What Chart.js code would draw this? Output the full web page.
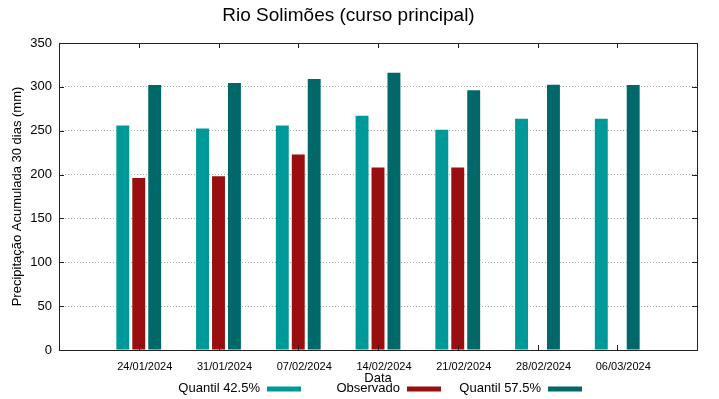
<!DOCTYPE html>
<html lang="pt">
<head>
<meta charset="UTF-8">
<title>Rio Solimões (curso principal)</title>
<script src="https://cdn.jsdelivr.net/npm/chart.js"></script>
<style>
  html, body { margin: 0; padding: 0; background: #fff; }
  #wrap { width: 719px; height: 399px; }
</style>
</head>
<body>
<div id="wrap"><canvas id="chart" width="719" height="399"></canvas></div>
<script>
const dates = ['24/01/2024', '31/01/2024', '07/02/2024', '14/02/2024', '21/02/2024', '28/02/2024', '06/03/2024']
const quantil425 = [256, 252.5, 256, 267, 251, 263.5, 263.5]
const observado = [196, 198, 223, 208, 208, null, null]
const quantil575 = [302, 304.5, 309, 316, 296, 302.5, 302]
const yTicks = [0, 50, 100, 150, 200, 250, 300, 350]

// empty slot on each side, like gnuplot leaves half a gap at the ends
const labels = ['', ...dates, '']
const pad = (arr) => [null, ...arr, null]

Chart.defaults.font.family = "'Liberation Sans', Arial, sans-serif"
Chart.defaults.color = '#000'

// frame round the plot + small inward ticks
const framePlugin = {
  id: 'frame',
  afterDatasetsDraw(chart) {
    const { ctx, chartArea: a, scales } = chart
    ctx.save()
    ctx.strokeStyle = '#222'
    ctx.lineWidth = 1
    ctx.beginPath()
    for (const v of yTicks) {
      const y = Math.round(scales.y.getPixelForValue(v)) + 0.5
      ctx.moveTo(a.left, y); ctx.lineTo(a.left + 5, y)
      ctx.moveTo(a.right, y); ctx.lineTo(a.right - 5, y)
    }
    dates.forEach((d, i) => {
      const x = Math.round(scales.x.getPixelForValue(i + 1)) + 0.5
      ctx.moveTo(x, a.bottom); ctx.lineTo(x, a.bottom - 5)
      ctx.moveTo(x, a.top); ctx.lineTo(x, a.top + 5)
    })
    ctx.stroke()
    ctx.strokeRect(Math.round(a.left) + 0.5, Math.round(a.top) + 0.5,
      Math.round(a.right - a.left), Math.round(a.bottom - a.top))
    ctx.restore()
  }
}

// gnuplot style key: text first, then the sample, one row under the plot
const keyPlugin = {
  id: 'gnuplotKey',
  afterDraw(chart) {
    const { ctx } = chart
    const sampleRight = [301, 441, 582]
    ctx.save()
    ctx.font = "13px 'Liberation Sans', Arial, sans-serif"
    ctx.textAlign = 'right'
    ctx.textBaseline = 'middle'
    chart.data.datasets.forEach((ds, i) => {
      const r = sampleRight[i]
      ctx.fillStyle = ds.backgroundColor
      ctx.fillRect(r - 34, 386.5, 34, 5)
      ctx.fillStyle = '#000'
      ctx.fillText(ds.label, r - 41, 388)
    })
    ctx.restore()
  }
}

const ctx = document.getElementById('chart').getContext('2d')
new Chart(ctx, {
  type: 'bar',
  data: {
    labels: labels,
    datasets: [
      { label: 'Quantil 42.5%', data: pad(quantil425), backgroundColor: '#009999', borderWidth: 0 },
      { label: 'Observado', data: pad(observado), backgroundColor: '#990e0e', borderWidth: 0 },
      { label: 'Quantil 57.5%', data: pad(quantil575), backgroundColor: '#006868', borderWidth: 0 },
    ],
  },
  options: {
    responsive: false,
    animation: false,
    layout: { padding: { left: 0, right: 22, top: 0, bottom: 0 } },
    datasets: { bar: { categoryPercentage: 0.6, barPercentage: 0.81 } },
    plugins: {
      title: {
        display: true,
        text: 'Rio Solimões (curso principal)',
        color: '#000',
        font: { size: 19, weight: 'normal' },
        padding: { top: 4.6, bottom: 15.6 },
      },
      legend: { display: false },
      tooltip: { enabled: false },
    },
    scales: {
      x: {
        type: 'category',
        offset: false,
        grid: { display: false, drawTicks: false },
        border: { display: false },
        ticks: { autoSkip: false, maxRotation: 0, padding: 10, labelOffset: 6, font: { size: 11 }, color: '#000' },
        title: { display: true, text: 'Data', font: { size: 13 }, color: '#000', padding: { top: -13, bottom: 13.2 } },
      },
      y: {
        min: 0,
        max: 350,
        afterFit: (scale) => { scale.width = 59 },
        afterBuildTicks: (scale) => { scale.ticks = yTicks.map((v) => ({ value: v })) },
        grid: {
          drawTicks: false,
          color: (c) => (c.tick && (c.tick.value === 0 || c.tick.value === 350) ? 'rgba(0,0,0,0)' : '#aaa'),
        },
        border: { display: false, dash: [1, 2] },
        ticks: { padding: 7, font: { size: 13 }, color: '#000' },
        title: {
          display: true,
          text: 'Precipitação Acumulada 30 dias (mm)',
          font: { size: 13 },
          color: '#000',
          padding: { top: 9.2, bottom: 0 },
        },
      },
    },
  },
  plugins: [framePlugin, keyPlugin],
})
</script>
</body>
</html>
